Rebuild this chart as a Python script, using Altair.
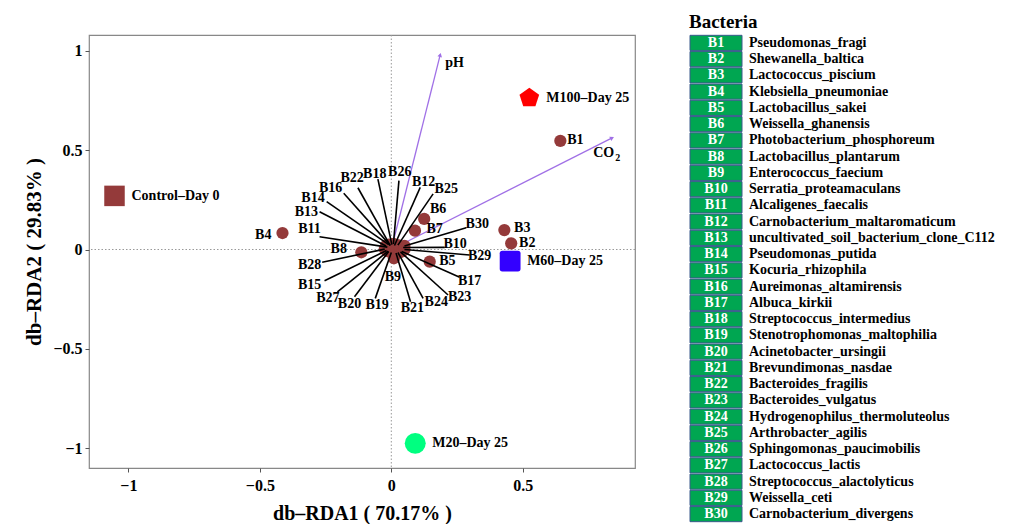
import math
import altair as alt
import pandas as pd

FONT = "Liberation Serif"

# ---------------- data ----------------
codes = ["B1", "B2", "B3", "B4", "B5", "B6", "B7", "B8", "B9", "B10",
         "B11", "B12", "B13", "B14", "B15", "B16", "B17", "B18", "B19", "B20",
         "B21", "B22", "B23", "B24", "B25", "B26", "B27", "B28", "B29", "B30"]
names = ["Pseudomonas_fragi", "Shewanella_baltica", "Lactococcus_piscium",
         "Klebsiella_pneumoniae", "Lactobacillus_sakei", "Weissella_ghanensis",
         "Photobacterium_phosphoreum", "Lactobacillus_plantarum", "Enterococcus_faecium",
         "Serratia_proteamaculans", "Alcaligenes_faecalis", "Carnobacterium_maltaromaticum",
         "uncultivated_soil_bacterium_clone_C112", "Pseudomonas_putida", "Kocuria_rhizophila",
         "Aureimonas_altamirensis", "Albuca_kirkii", "Streptococcus_intermedius",
         "Stenotrophomonas_maltophilia", "Acinetobacter_ursingii", "Brevundimonas_nasdae",
         "Bacteroides_fragilis", "Bacteroides_vulgatus", "Hydrogenophilus_thermoluteolus",
         "Arthrobacter_agilis", "Sphingomonas_paucimobilis", "Lactococcus_lactis",
         "Streptococcus_alactolyticus", "Weissella_ceti", "Carnobacterium_divergens"]

# bacteria scores
bac_x = [0.643, 0.456, 0.430, -0.414, 0.146, 0.125, 0.090, -0.114, 0.010, 0.045,
         -0.015, 0.012, -0.020, -0.010, -0.018, -0.005, 0.040, 0.002, 0.000, -0.010,
         0.018, -0.004, 0.035, 0.025, 0.025, 0.008, -0.012, -0.025, 0.050, 0.050]
bac_y = [0.547, 0.031, 0.098, 0.083, -0.061, 0.154, 0.095, -0.014, -0.044, 0.010,
         0.012, 0.020, 0.018, 0.025, -0.005, 0.022, -0.010, 0.025, -0.015, -0.010,
         -0.018, 0.020, -0.012, -0.015, 0.022, 0.028, -0.008, 0.002, 0.000, 0.018]
# label positions
lab_x = [0.700, 0.517, 0.498, -0.487, 0.213, 0.178, 0.165, -0.200, 0.006, 0.243,
         -0.311, 0.123, -0.323, -0.298, -0.311, -0.231, 0.298, -0.063, -0.054, -0.159,
         0.080, -0.149, 0.260, 0.171, 0.209, 0.032, -0.241, -0.311, 0.336, 0.327]
lab_y = [0.550, 0.033, 0.108, 0.073, -0.056, 0.203, 0.102, 0.001, -0.137, 0.028,
         0.102, 0.339, 0.190, 0.258, -0.179, 0.308, -0.159, 0.380, -0.280, -0.275,
         -0.293, 0.362, -0.238, -0.266, 0.305, 0.389, -0.243, -0.078, -0.033, 0.127]
# connector segment ends (labels B10-B30 only)
seg_x = [None, None, None, None, None, None, None, None, None,
         0.203, -0.273, 0.110, -0.273, -0.246, -0.254, -0.181, 0.260, -0.051, -0.061,
         -0.140, 0.073, -0.127, 0.216, 0.121, 0.159, 0.029, -0.205, -0.263, 0.298, 0.285]
seg_y = [None, None, None, None, None, None, None, None, None,
         0.011, 0.064, 0.313, 0.190, 0.241, -0.157, 0.283, -0.140, 0.354, -0.246,
         -0.238, -0.263, 0.311, -0.229, -0.246, 0.280, 0.347, -0.213, -0.064, -0.028, 0.110]

# samples
samples = ["Control–Day 0", "M100–Day 25", "M60–Day 25", "M20–Day 25"]
samp_x = [-1.053, 0.525, 0.452, 0.091]
samp_y = [0.270, 0.763, -0.058, -0.976]
samp_color = ["#943a3a", "#ff0000", "#3300ff", "#00ff80"]
PENTAGON = "M0,-1L0.951,-0.309L0.588,0.809L-0.588,0.809L-0.951,-0.309Z"
ROUNDSQ = ("M-0.75,-1L0.75,-1Q1,-1 1,-0.75L1,0.75Q1,1 0.75,1L-0.75,1"
           "Q-1,1 -1,0.75L-1,-0.75Q-1,-1 -0.75,-1Z")
samp_shape = ["square", PENTAGON, ROUNDSQ, "circle"]
samp_size = [420, 440, 450, 330]

# environmental vectors
env = ["pH", "CO"]
env_x = [0.186, 0.840]
env_y = [0.980, 0.562]
env_lx = [0.205, 0.768]
env_ly = [0.939, 0.486]

# ---------------- frames ----------------
XD = [-1.15, 0.927]
YD = [-1.10, 1.08]
W, H = 546, 433

bac = pd.DataFrame({"code": codes, "name": names, "x": bac_x, "y": bac_y,
                    "lx": lab_x, "ly": lab_y, "sx": seg_x, "sy": seg_y})
seg = bac.dropna(subset=["sx"])
smp = pd.DataFrame({"sample": samples, "x": samp_x, "y": samp_y})
envdf = pd.DataFrame({"var": env, "x": env_x, "y": env_y, "lx": env_lx, "ly": env_ly,
                      "x0": [0, 0], "y0": [0, 0]})
px_per_x = W / (XD[1] - XD[0])
px_per_y = H / (YD[1] - YD[0])
envdf["ang"] = [math.degrees(math.atan2(a * px_per_x, b * px_per_y)) for a, b in zip(env_x, env_y)]
zero = pd.DataFrame({"z": [0]})

xs = alt.Scale(domain=XD, nice=False, zero=False)
ys = alt.Scale(domain=YD, nice=False, zero=False)

common_axis = dict(grid=False, domain=False, tickColor="#555555", tickSize=4,
                   labelFont=FONT, labelFontSize=16, labelFontWeight="bold", labelColor="black",
                   titleFont=FONT, titleFontWeight="bold", titleColor="black",
                   format="~g", labelOverlap=False)
xaxis = alt.Axis(title="db–RDA1 ( 70.17% )", values=[-1, -0.5, 0, 0.5],
                 labelPadding=5, titlePadding=10, titleFontSize=20, **common_axis)
yaxis = alt.Axis(title="db–RDA2 ( 29.83% )", values=[-1, -0.5, 0, 0.5, 1],
                 labelPadding=3, titlePadding=8, titleFontSize=21, **common_axis)


def X(f):
    return alt.X(f"{f}:Q", scale=xs, axis=xaxis)


def Y(f):
    return alt.Y(f"{f}:Q", scale=ys, axis=yaxis)


vline = alt.Chart(zero).mark_rule(color="#999999", strokeDash=[1.5, 2], strokeWidth=1).encode(x=X("z"))
hline = alt.Chart(zero).mark_rule(color="#999999", strokeDash=[1.5, 2], strokeWidth=1).encode(y=Y("z"))

PURPLE = "#a070e6"
env_rule = alt.Chart(envdf).mark_rule(color=PURPLE, strokeWidth=1.3).encode(
    x=X("x0"), y=Y("y0"), x2="x:Q", y2="y:Q")
env_head = alt.Chart(envdf).mark_point(shape="triangle-up", filled=True, size=22, color=PURPLE, opacity=1).encode(
    x=X("x"), y=Y("y"), angle=alt.Angle("ang:Q", scale=None))
env_lab = alt.Chart(envdf).mark_text(align="left", baseline="middle", font=FONT, fontWeight="bold",
                                     fontSize=14, color="black").encode(
    x=X("lx"), y=Y("ly"), text="var:N")
co2_sub = alt.Chart(envdf[envdf["var"] == "CO"]).mark_text(
    align="left", baseline="middle", font=FONT, fontWeight="bold", fontSize=10, color="black",
    dx=22, dy=5).encode(x=X("lx"), y=Y("ly"), text=alt.value("2"))

bac_pts = alt.Chart(bac).mark_circle(size=150, color="#943a3a", opacity=1).encode(x=X("x"), y=Y("y"))
bac_seg = alt.Chart(seg).mark_rule(color="black", strokeWidth=1.6).encode(
    x=X("x"), y=Y("y"), x2="sx:Q", y2="sy:Q")
bac_lab = alt.Chart(bac).mark_text(align="center", baseline="middle", font=FONT, fontWeight="bold",
                                   fontSize=14, color="black").encode(
    x=X("lx"), y=Y("ly"), text="code:N")

smp_pts = alt.Chart(smp).mark_point(filled=True, opacity=1).encode(
    x=X("x"), y=Y("y"),
    color=alt.Color("sample:N", scale=alt.Scale(domain=samples, range=samp_color), legend=None),
    shape=alt.Shape("sample:N", scale=alt.Scale(domain=samples, range=samp_shape), legend=None),
    size=alt.Size("sample:N", scale=alt.Scale(domain=samples, range=samp_size), legend=None))
smp_lab = alt.Chart(smp).mark_text(align="left", baseline="middle", dx=17, font=FONT, fontWeight="bold",
                                   fontSize=14, color="black").encode(
    x=X("x"), y=Y("y"), text="sample:N")

left = alt.layer(vline, hline, env_rule, env_head, env_lab, co2_sub, bac_pts, bac_seg, bac_lab,
                 smp_pts, smp_lab).properties(
    width=W, height=H, view=alt.ViewBackground(stroke="#888888", strokeWidth=1.2))

# ---------------- legend panel ----------------
leg = pd.DataFrame({"code": codes, "name": names})
yb = alt.Y("code:N", sort=codes, axis=None, scale=alt.Scale(paddingInner=0.07, paddingOuter=0.02))
boxes = alt.Chart(leg).mark_rect(fill="#00a651", stroke="#3a5a8c", strokeWidth=1).encode(
    x=alt.value(1), x2=alt.value(53), y=yb)
code_t = alt.Chart(leg).mark_text(align="center", baseline="middle", color="white", font=FONT,
                                  fontWeight="bold", fontSize=14).encode(
    x=alt.value(27), y=yb, text="code:N")
name_t = alt.Chart(leg).mark_text(align="left", baseline="middle", color="black", font=FONT,
                                  fontWeight="bold", fontSize=14).encode(
    x=alt.value(60), y=yb, text="name:N")
right = alt.layer(boxes, code_t, name_t).properties(
    width=318, height=487,
    view=alt.ViewBackground(stroke=None),
    title=alt.TitleParams("Bacteria", anchor="start", font=FONT, fontSize=19, fontWeight="bold",
                          color="black", offset=3))

chart = alt.hconcat(left, right, spacing=54, bounds="flush").properties(
    padding={"left": 23, "top": 12, "right": 0, "bottom": 0}
).configure_view(stroke=None)

chart.save("out.html", embed_options={"renderer": "svg", "actions": False})
